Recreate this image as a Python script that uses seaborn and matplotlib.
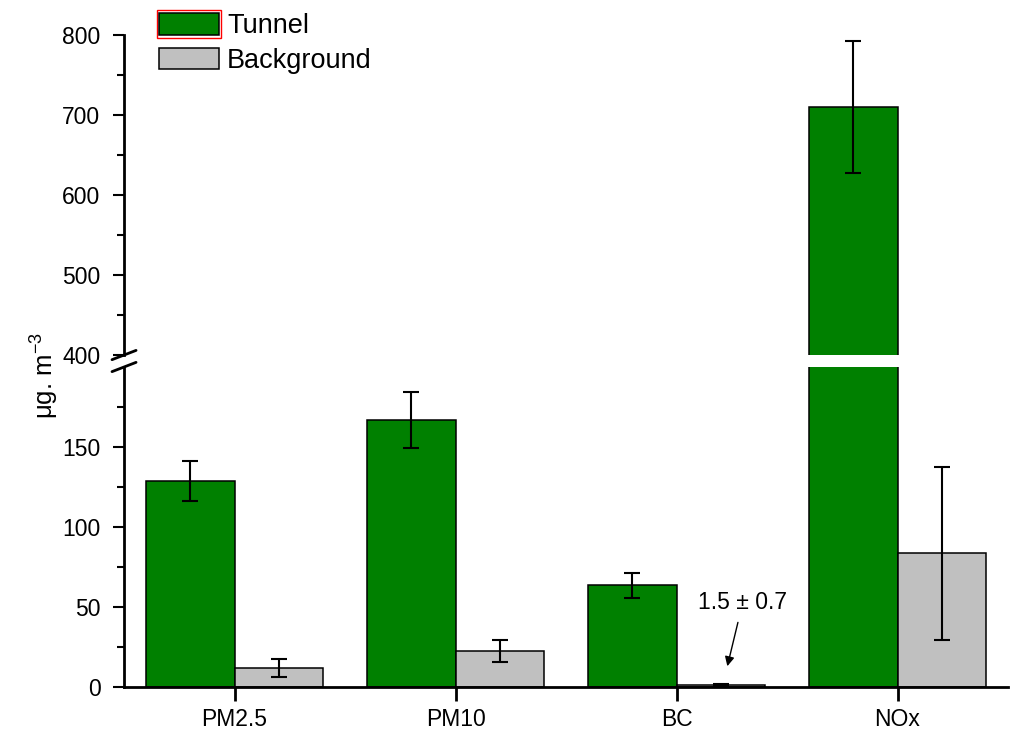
import pandas as pd
import matplotlib.pyplot as plt
import matplotlib.patches as mpatches
import seaborn as sns

# values
pollutants = ['PM2.5', 'PM10', 'BC', 'NOx']
tunnel = [128.5, 167.0, 63.5, 710.0]
tunnel_err = [12.5, 17.5, 7.8, 83.0]
background = [12.0, 22.5, 1.5, 83.5]
background_err = [5.7, 6.8, 0.7, 54.0]

sns.set_style('ticks', {'axes.edgecolor': 'black', 'text.color': 'black',
                        'xtick.color': 'black', 'ytick.color': 'black',
                        'axes.labelcolor': 'black'})
plt.rcParams['font.family'] = ['Liberation Sans', 'DejaVu Sans']
plt.rcParams['mathtext.fontset'] = 'custom'
plt.rcParams['mathtext.rm'] = 'Liberation Sans'

df = pd.DataFrame({
    'pollutant': pollutants * 2,
    'value': tunnel + background,
    'site': ['Tunnel'] * 4 + ['Background'] * 4,
})
errs = tunnel_err + background_err
colors = {'Tunnel': '#008000', 'Background': '#C0C0C0'}

fig = plt.figure(figsize=(10.15, 7.34), dpi=100)
ax_top = fig.add_axes([0.1222, 0.5163, 0.8709, 0.4360])
ax_low = fig.add_axes([0.1222, 0.0640, 0.8709, 0.4360])

for ax in (ax_top, ax_low):
    sns.barplot(data=df, x='pollutant', y='value', hue='site', palette=colors,
                saturation=1, edgecolor='black', linewidth=1.1, errorbar=None,
                legend=False, width=0.8, ax=ax)
    # error bars at the bar centres
    xs = [p.get_x() + p.get_width() / 2 for p in ax.patches[:8]]
    ax.errorbar(xs, df['value'], yerr=errs, fmt='none', ecolor='black',
                elinewidth=1.5, capsize=6, capthick=1.5)
    ax.set_xlim(-0.5, 3.5)
    ax.set_xlabel('')
    ax.set_ylabel('')
    ax.spines['right'].set_visible(False)
    ax.spines['top'].set_visible(False)
    ax.spines['left'].set_linewidth(2)
    ax.spines['bottom'].set_linewidth(2)
    ax.tick_params(axis='y', which='major', length=8, width=1.5, labelsize=16.5, pad=9)
    ax.tick_params(axis='y', which='minor', length=5, width=1.5)

ax_top.set_ylim(400, 800)
ax_top.set_yticks([400, 500, 600, 700, 800])
ax_top.set_yticks([450, 550, 650, 750], minor=True)
ax_top.spines['bottom'].set_visible(False)
ax_top.tick_params(axis='x', which='both', bottom=False, labelbottom=False)

ax_low.set_ylim(0, 200)
ax_low.set_yticks([0, 50, 100, 150])
ax_low.set_yticks([25, 75, 125, 175], minor=True)
ax_low.tick_params(axis='x', which='major', length=10, width=2, labelsize=16.5, pad=5)

# axis break marks
d = dict(color='black', lw=2, clip_on=False)
ax_top.plot([-0.0136, 0.0136], [-0.0145, 0.0145], transform=ax_top.transAxes, **d)
ax_low.plot([-0.0136, 0.0136], [0.9855, 1.0145], transform=ax_low.transAxes, **d)

ax_low.annotate('1.5 \u00b1 0.7', xy=(2.23, 13), xytext=(2.3, 53),
                ha='center', va='center', fontsize=16.5,
                arrowprops=dict(arrowstyle='-|>', color='black', lw=1,
                                mutation_scale=14, shrinkA=4, shrinkB=0))

fig.text(0.043, 0.489, r'μg. m$^{\mathregular{-3}}$', rotation=90,
         ha='center', va='center', fontsize=18.5)

handles = [mpatches.Patch(facecolor=colors[s], edgecolor='black', linewidth=1.1, label=s)
           for s in ['Tunnel', 'Background']]
leg = fig.legend(handles=handles, loc='upper left', bbox_to_anchor=(0.141, 1.004),
                 frameon=False, fontsize=19.5, handlelength=2.2, handleheight=0.85,
                 handletextpad=0.3, labelspacing=0.3, borderaxespad=0.2)

# red selection box around the Tunnel legend key, as in the reference
fig.canvas.draw()
bb = leg.legend_handles[0].get_window_extent()
fig.patches.append(mpatches.Rectangle((bb.x0 - 2, bb.y0 - 3), bb.width + 4, bb.height + 6,
                                      fill=False, edgecolor='red', lw=1,
                                      transform=None, figure=fig))

fig.savefig('out.png', dpi=100)
